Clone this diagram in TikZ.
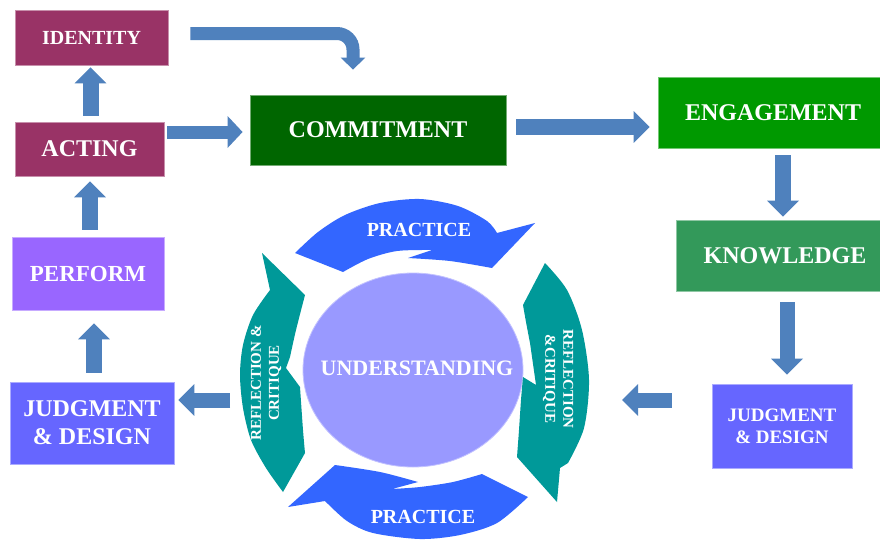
\documentclass[tikz,border=0pt]{standalone}
\usepackage{fontspec}
\setmainfont{Liberation Serif}
\usetikzlibrary{arrows.meta,calc,shapes.geometric}
\definecolor{boxmaroon}{HTML}{993366}
\definecolor{boxdkgreen}{HTML}{006600}
\definecolor{boxgreen}{HTML}{009900}
\definecolor{boxknow}{HTML}{33995A}
\definecolor{boxperform}{HTML}{9966FF}
\definecolor{boxjudg}{HTML}{6666FF}
\definecolor{arrowblue}{HTML}{4F81BD}
\definecolor{ringblue}{HTML}{3366FF}
\definecolor{ringteal}{HTML}{009999}
\definecolor{ellcol}{HTML}{9999FF}
\begin{document}
\begin{tikzpicture}[x=1pt,y=1pt,
  box/.style={draw=#1!55!white, line width=0.8pt, fill=#1, text=white, inner sep=0pt, align=center},
  fs/.style n args={2}{font=\bfseries\fontsize{#1}{#2}\selectfont},
  barrow/.style={draw=arrowblue, line width=16pt, -{Triangle[width=31pt,length=16pt]}},
  thinarrow/.style={draw=arrowblue, line width=13pt, -{Triangle[width=31pt,length=15pt]}},
  ringtext/.style={text=white, align=center, inner sep=0pt}
]
\useasboundingbox (0,0) rectangle (880,-544);
\fill[white] (0,0) rectangle (880,-544);

% boxes
\node[box=boxmaroon, fs={20}{24}, minimum width=153pt, minimum height=55pt] (identity) at (91.5,-37.5) {IDENTITY};
\node[box=boxmaroon, fs={24}{28}, minimum width=149pt, minimum height=54pt] (acting) at (89.5,-149) {ACTING};
\node[box=boxdkgreen, fs={24}{28}, minimum width=256pt, minimum height=70pt] (commitment) at (378,-130) {COMMITMENT};
\node[box=boxgreen, fs={24}{28}, minimum width=222pt, minimum height=71pt] (engagement) at (769,-112.5) {\hspace*{8pt}ENGAGEMENT};
\node[box=boxknow, fs={24}{28}, minimum width=204pt, minimum height=71pt] (knowledge) at (778,-255.5) {\hspace*{14pt}KNOWLEDGE};
\node[box=boxperform, fs={23}{27}, minimum width=152pt, minimum height=73pt] (perform) at (88,-273.5) {PERFORM};
\node[box=boxjudg, fs={24}{28}, minimum width=164pt, minimum height=82pt] (judgl) at (92,-423) {JUDGMENT\\\& DESIGN};
\node[box=boxjudg, fs={19}{22}, minimum width=140pt, minimum height=84pt] (judgr) at (782,-426) {JUDGMENT\\\& DESIGN};

% block arrows
\draw[barrow, shorten <=6pt, shorten >=2pt] ([xshift=1pt]acting.north) -- ([xshift=1pt]acting.north |- identity.south);
\draw[barrow, shorten <=7pt, shorten >=5pt] ([xshift=2pt]perform.north) -- ([xshift=2pt]perform.north |- acting.south);
\draw[barrow, shorten <=9pt, shorten >=13pt] ([xshift=2pt]judgl.north) -- ([xshift=2pt]judgl.north |- perform.south);

\coordinate (ac) at ([yshift=-2pt]commitment.west);
\draw[thinarrow, shorten <=3pt, shorten >=7pt] (ac -| acting.east) -- (ac);

\draw[draw=arrowblue, line width=13pt, rounded corners=16pt, -{Triangle[width=24pt,length=12pt]}, shorten <=22pt, shorten >=25pt]
  ([yshift=4pt]identity.east) -| ([xshift=-25pt]commitment.north);

\coordinate (ce) at ([yshift=3pt]commitment.east);
\draw[barrow, shorten <=10pt, shorten >=8pt] (ce) -- (ce -| engagement.west);

\draw[barrow, shorten <=7pt, shorten >=3pt] ([xshift=14pt]engagement.south) -- ([xshift=14pt]engagement.south |- knowledge.north);
\draw[barrow, line width=15pt, shorten <=11pt, shorten >=9pt] ([xshift=9pt]knowledge.south) -- ([xshift=9pt]knowledge.south |- judgr.north);

\coordinate (rtip) at (622,-400);
\draw[barrow, line width=15pt, shorten <=40pt] ([yshift=26pt]judgr.west) -- (rtip);
\coordinate (ltail) at (230,-400);
\draw[barrow, line width=15pt, shorten >=4pt] (ltail) -- ([yshift=23pt]judgl.east);

% centre ellipse
\node[ellipse, fill=ellcol, draw=ellcol!60!white, line width=0.8pt, minimum width=220pt, minimum height=194pt, inner sep=0pt] (und) at (413,-370) {};
\node[ringtext, fs={22}{26}] (undtext) at (417,-368) {UNDERSTANDING};

% ring arrows
\fill[ringblue] plot[smooth] coordinates {(295,-253) (318,-232) (345,-215) (380,-203) (420,-199) (458,-206) (487,-221) (497,-233)}
  -- (535,-223) -- (492,-268)
  -- plot[smooth] coordinates {(492,-268) (450,-261) (408,-258)}
  -- (432,-250)
  -- plot[smooth] coordinates {(432,-250) (397,-251) (368,-259) (343,-272)} -- cycle;

\fill[ringblue] (288,-507) -- (325,-501)
  -- plot[smooth] coordinates {(325,-501) (347,-521) (373,-533) (420,-539) (460,-535) (497,-523) (528,-497)}
  -- (482,-474)
  -- plot[smooth] coordinates {(482,-474) (453,-482) (420,-487) (392,-489)}
  -- (418,-482)
  -- plot[smooth] coordinates {(418,-482) (380,-472) (335,-465)} -- cycle;

\fill[ringteal] (262,-253) -- (270,-290)
  -- plot[smooth] coordinates {(270,-290) (253,-315) (243,-345) (240,-375) (243,-408) (251,-440) (266,-468) (283,-492)}
  -- (305,-453)
  -- plot[smooth] coordinates {(305,-453) (303,-430) (300,-387)}
  -- (286,-368) -- (290,-357)
  -- plot[smooth] coordinates {(290,-357) (296,-330) (305,-295)} -- cycle;

\fill[ringteal] plot[smooth] coordinates {(545,-263) (567,-290) (582,-330) (589,-380) (584,-428) (568,-463)}
  -- (560,-468) -- (557,-502) -- (517,-457)
  -- plot[smooth] coordinates {(517,-457) (519,-430) (521,-400) (523,-377)}
  -- (536,-385) -- (530,-343)
  -- plot[smooth] coordinates {(530,-343) (526,-322) (523,-305)} -- cycle;

% ring labels
\node[ringtext, fs={20}{24}] (practop) at (419,-230) {PRACTICE};
\node[ringtext, fs={20}{24}] (pracbot) at (423,-517) {PRACTICE};
\node[ringtext, fs={15}{18}, rotate=90] (refl) at (266,-383) {REFLECTION \&\\CRITIQUE};
\node[ringtext, fs={15}{18}, rotate=-90] (refr) at (558,-379) {REFLECTION\\\&CRITIQUE};
\end{tikzpicture}
\end{document}
